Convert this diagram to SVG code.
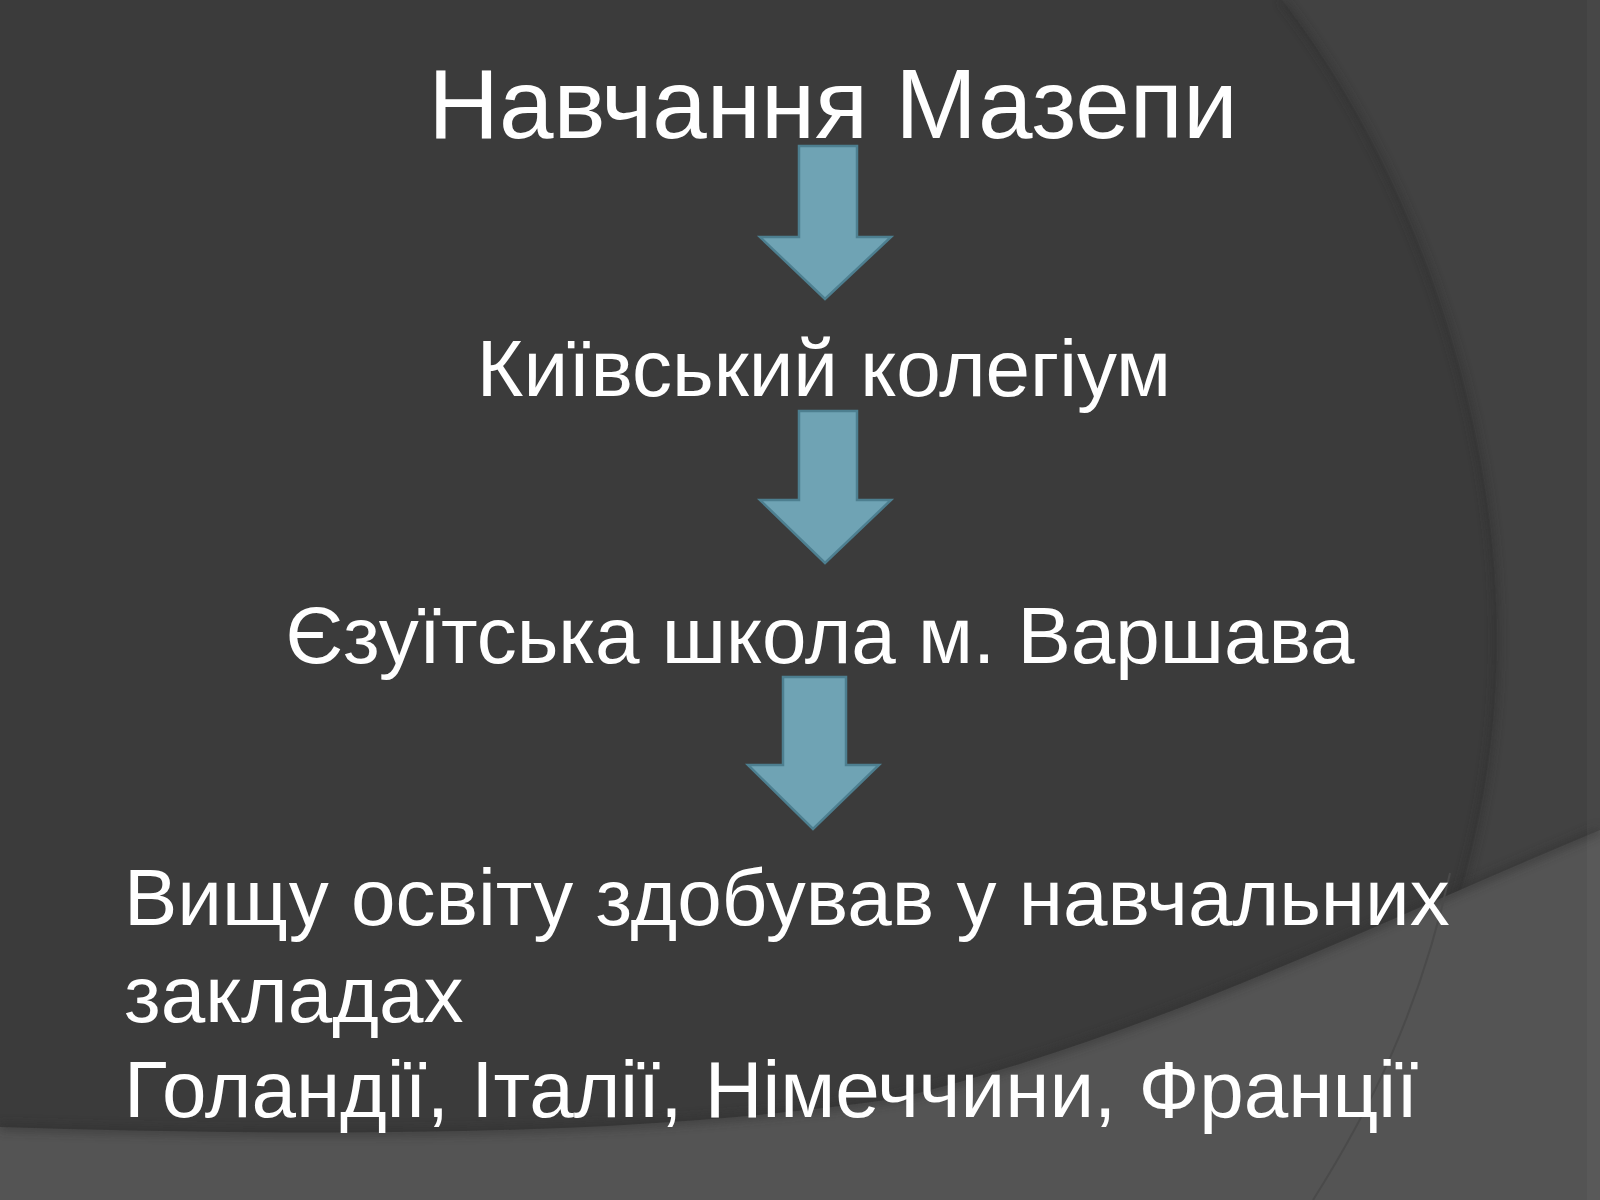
<svg xmlns="http://www.w3.org/2000/svg" width="1600" height="1200" viewBox="0 0 1600 1200">
  <style>
    .t { font-family: "Liberation Sans", Arial, sans-serif; fill: #ffffff; }
    .arrow { fill: #6fa3b4; stroke: #4d7f90; stroke-width: 2.5; stroke-linejoin: miter; }
  </style>
  <defs>
    <filter id="soft" x="-10%" y="-10%" width="120%" height="120%">
      <feGaussianBlur stdDeviation="4"/>
    </filter>
  </defs>
  <g id="background">
    <rect x="0" y="0" width="1600" height="1200" fill="#3b3b3b"/>
    <path d="M1282,0 C1400,150 1500,400 1497,650 C1495,850 1420,1050 1313,1200 L1600,1200 L1600,0 Z" fill="#424242"/>
    <path d="M1282,0 C1400,150 1500,400 1497,650 C1495,850 1420,1050 1313,1200" fill="none" stroke="#2e2e2e" stroke-width="6" opacity="0.6" filter="url(#soft)"/>
    <path d="M0,1127 C350,1138 650,1135 900,1098 C1150,1035 1350,935 1600,830 L1600,1200 L0,1200 Z" fill="#545454"/>
    <path d="M0,1127 C350,1138 650,1135 900,1098 C1150,1035 1350,935 1600,830" fill="none" stroke="#2e2e2e" stroke-width="8" opacity="0.5" filter="url(#soft)"/>
    <path d="M1450,873 C1420,1010 1370,1110 1313,1200" fill="none" stroke="#4a4a4a" stroke-width="2"/>
    <rect x="1587" y="0" width="13" height="1200" fill="#ffffff" opacity="0.03"/>
  </g>
  <g id="node-title">
    <text class="t" x="833" y="138" font-size="98" text-anchor="middle">Навчання Мазепи</text>
  </g>
  <g id="node-kyiv">
    <text class="t" x="824" y="396" font-size="80" text-anchor="middle">Київський колегіум</text>
  </g>
  <g id="node-warsaw">
    <text class="t" x="820" y="663" font-size="80" text-anchor="middle">Єзуїтська школа м. Варшава</text>
  </g>
  <g id="node-higher">
    <text class="t" x="124" y="925" font-size="80">Вищу освіту здобував у навчальних</text>
    <text class="t" x="124" y="1022" font-size="80">закладах</text>
    <text class="t" x="124" y="1117" font-size="80">Голандії, Італії, Німеччини, Франції</text>
  </g>
  <g id="connectors">
    <path class="arrow" d="M799,146 L857,146 L857,237 L891,237 L825,299 L760,237 L799,237 Z"/>
    <path class="arrow" d="M799,411 L857,411 L857,500 L891,500 L825,563 L760,500 L799,500 Z"/>
    <path class="arrow" d="M783,677 L846,677 L846,765 L879,765 L813,829 L748,765 L783,765 Z"/>
  </g>
</svg>
